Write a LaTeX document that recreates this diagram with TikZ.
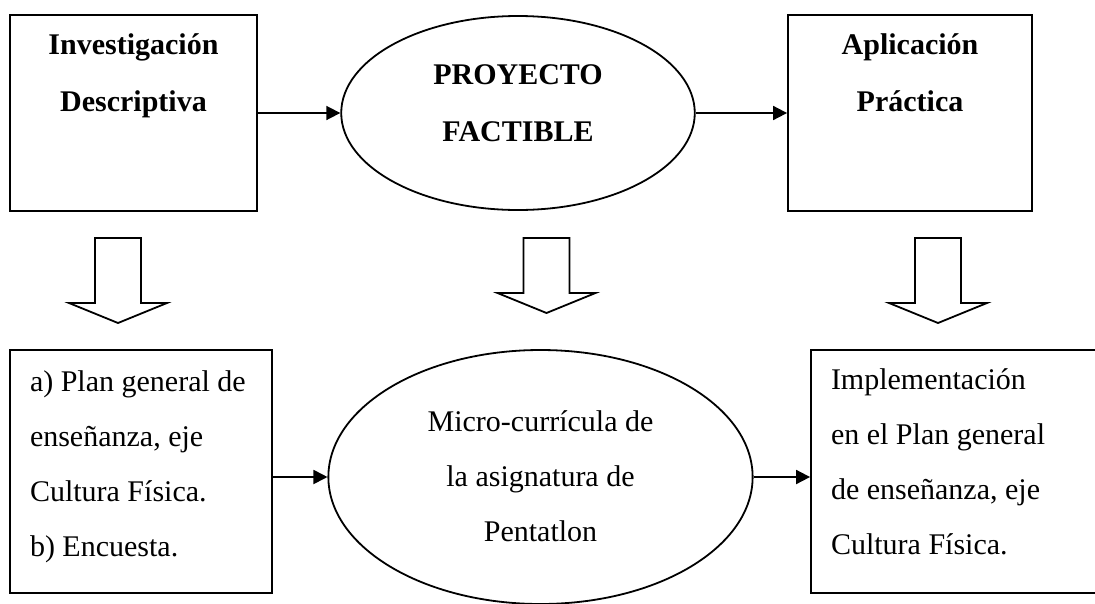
\documentclass[tikz,border=0pt]{standalone}
\usepackage{fontspec}
\setmainfont{Liberation Serif}
\usetikzlibrary{shapes.geometric,arrows.meta}

\begin{document}
\begin{tikzpicture}[x=1pt,y=-1pt,line width=1.8pt,
      every node/.style = {draw, inner sep=0pt,
        font=\fontsize{30}{55}\selectfont},
      caja/.style = {shape=rectangle},
      ovalo/.style = {shape=ellipse},
      titulo/.style = {font=\fontsize{30}{57}\selectfont\bfseries},
      flecha/.style = {-{Triangle[length=14pt,width=14pt]}}]
  \useasboundingbox (0,0) rectangle (1095,603);
  \clip (0,0) rectangle (1095,603);
  \node[caja,titulo,minimum width=247pt,minimum height=196pt] (inv) at (133.5,113)
    {\parbox[c][158pt][t]{230pt}{\centering Investigación\\Descriptiva}};
  \node[ovalo,titulo,minimum width=342pt,minimum height=194pt] (proy) at (518,113)
    {\parbox{250pt}{\centering PROYECTO\\FACTIBLE\par\vspace{20pt}}};
  \node[caja,titulo,minimum width=244pt,minimum height=196pt] (apl) at (910,113)
    {\parbox[c][158pt][t]{230pt}{\centering Aplicación\\Práctica}};
  \node[caja,minimum width=262pt,minimum height=243pt] (plan) at (141,471.5)
    {\parbox[c][201pt][t]{222pt}{\raggedright a) Plan general de\\enseñanza, eje\\Cultura Física.\\b) Encuesta.}};
  \node[ovalo,minimum width=421pt,minimum height=254pt] (micro) at (540.5,477)
    {\parbox{300pt}{\centering Micro-currícula de\\la asignatura de\\Pentatlon\par\vspace{2pt}}};
  \node[caja,minimum width=300pt,minimum height=243pt] (impl) at (961,471.5)
    {\parbox[c][205pt][t]{260pt}{\raggedright Implementación\\en el Plan general\\de enseñanza, eje\\Cultura Física.}};
  \draw[flecha] (inv) -- (proy);
  \draw[flecha] (proy) -- (apl);
  \draw[flecha] (plan.east |- micro.west) -- (micro.west);
  \draw[flecha] (micro.east) -- (micro.east -| impl.west);
  % flechas gruesas hacia abajo
  \foreach \x/\b in {118/303, 546.5/293, 938/303}
    \draw (\x-23,238) -- (\x+23,238) -- (\x+23,\b) -- (\x+49,\b) -- (\x,\b+20)
      -- (\x-49,\b) -- (\x-23,\b) -- cycle;
\end{tikzpicture}
\end{document}
